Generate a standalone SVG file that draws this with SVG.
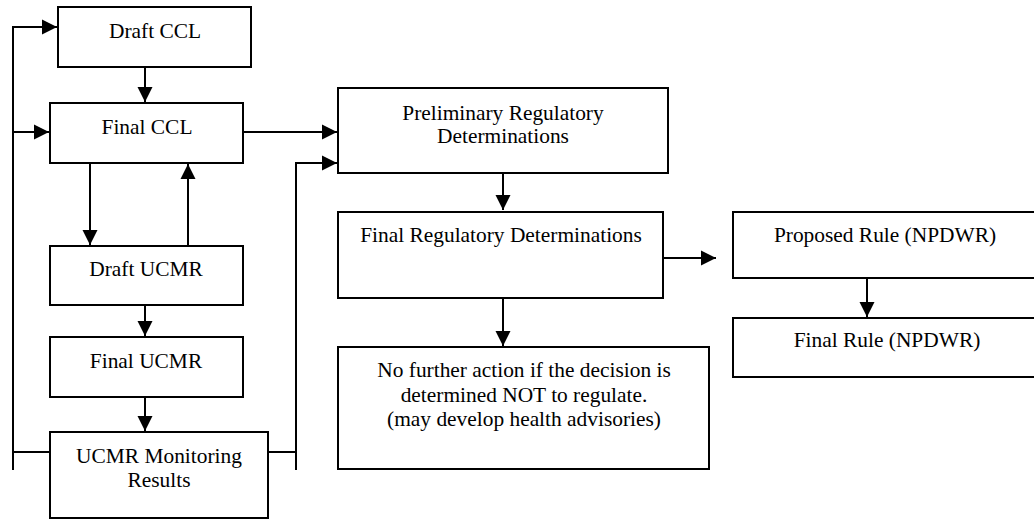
<svg xmlns="http://www.w3.org/2000/svg" width="1034" height="519" viewBox="0 0 1034 519">
<style>
.box{fill:#fff;stroke:#000;stroke-width:2}
.t{font-family:'Liberation Serif',Tinos,'Times New Roman',Times,'DejaVu Serif',serif;font-size:21.4px;fill:#000;text-anchor:middle}
.c{fill:none;stroke:#000;stroke-width:2}
</style>
<defs>
<marker id="ah" markerUnits="userSpaceOnUse" markerWidth="16" markerHeight="16" viewBox="0 0 16 16" refX="15" refY="8" orient="auto">
<path d="M0,0.5 L15,8 L0,15.5 Z" fill="#000"/>
</marker>
</defs>
<rect width="1034" height="519" fill="#fff"/>
<g id="connectors">
<polyline class="c" points="13,470 13,27 57,27" marker-end="url(#ah)"/>
<line class="c" x1="13" y1="132" x2="49" y2="132" marker-end="url(#ah)"/>
<line class="c" x1="13" y1="452" x2="50" y2="452"/>
<polyline class="c" points="296,470 296,163 337,163" marker-end="url(#ah)"/>
<line class="c" x1="268" y1="452" x2="296" y2="452"/>
<line class="c" x1="243" y1="132" x2="337" y2="132" marker-end="url(#ah)"/>
<line class="c" x1="145" y1="67" x2="145" y2="102" marker-end="url(#ah)"/>
<line class="c" x1="90" y1="163" x2="90" y2="245" marker-end="url(#ah)"/>
<line class="c" x1="188" y1="246" x2="188" y2="164" marker-end="url(#ah)"/>
<line class="c" x1="145" y1="305" x2="145" y2="336" marker-end="url(#ah)"/>
<line class="c" x1="145" y1="397" x2="145" y2="431" marker-end="url(#ah)"/>
<line class="c" x1="503" y1="173" x2="503" y2="210" marker-end="url(#ah)"/>
<line class="c" x1="503" y1="298" x2="503" y2="346" marker-end="url(#ah)"/>
<line class="c" x1="663" y1="258" x2="716" y2="258" marker-end="url(#ah)"/>
<line class="c" x1="867" y1="278" x2="867" y2="317" marker-end="url(#ah)"/>
</g>
<g id="draft-ccl"><rect class="box" x="58" y="7" width="193" height="60"/><text class="t" x="155" y="38">Draft CCL</text></g>
<g id="final-ccl"><rect class="box" x="50" y="103" width="193" height="60"/><text class="t" x="147" y="134">Final CCL</text></g>
<g id="draft-ucmr"><rect class="box" x="50" y="246" width="193" height="59"/><text class="t" x="146" y="276">Draft UCMR</text></g>
<g id="final-ucmr"><rect class="box" x="50" y="337" width="193" height="60"/><text class="t" x="146" y="368">Final UCMR</text></g>
<g id="ucmr-results"><rect class="box" x="50" y="432" width="218" height="86"/><text class="t" x="159" y="463">UCMR Monitoring</text><text class="t" x="159" y="487">Results</text></g>
<g id="prelim"><rect class="box" x="338" y="88" width="330" height="85"/><text class="t" x="503" y="120">Preliminary Regulatory</text><text class="t" x="503" y="143">Determinations</text></g>
<g id="final-reg"><rect class="box" x="338" y="212" width="325" height="86"/><text class="t" x="501" y="242">Final Regulatory Determinations</text></g>
<g id="no-action"><rect class="box" x="338" y="347" width="371" height="122"/><text class="t" x="524" y="377">No further action if the decision is</text><text class="t" x="524" y="402">determined NOT to regulate.</text><text class="t" x="524" y="426">(may develop health advisories)</text></g>
<g id="proposed"><rect class="box" x="733" y="212" width="310" height="66"/><text class="t" x="885" y="242">Proposed Rule (NPDWR)</text></g>
<g id="final-rule"><rect class="box" x="733" y="318" width="310" height="59"/><text class="t" x="887" y="347">Final Rule (NPDWR)</text></g>
</svg>
